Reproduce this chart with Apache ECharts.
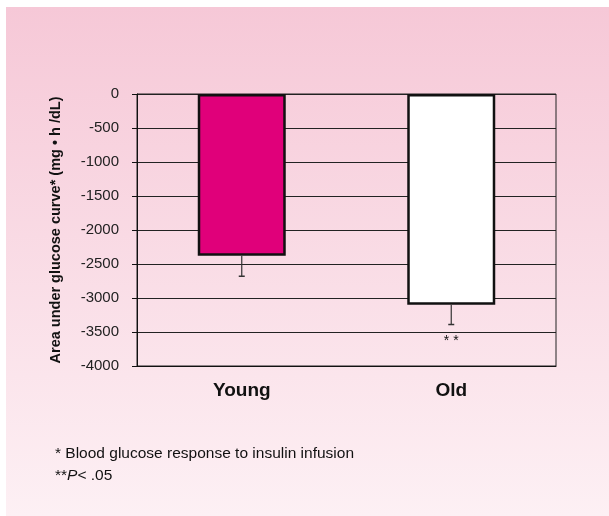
<!DOCTYPE html>
<html>
<head>
<meta charset="utf-8">
<script src="https://cdn.jsdelivr.net/npm/echarts@6/dist/echarts.min.js"></script>
<style>
  html, body { margin: 0; padding: 0; background: #ffffff; }
  #chart { width: 609px; height: 516px; }
</style>
</head>
<body>
<div id="chart"></div>
<script>
// Area under the glucose curve during insulin infusion, by age group
const categories = ['Young', 'Old'];
const areaValues = [-2380, -3100];
const errorValues = [300, 290];
const significance = ['', '* *'];
const yTicks = { min: -4000, max: 0, interval: 500 };

const FONT = '"Liberation Sans", Arial, sans-serif';
const barColors = ['#e0007a', '#ffffff'];

const chart = echarts.init(document.getElementById('chart'), null, { renderer: 'canvas' });

chart.setOption({
  animation: false,
  graphic: [
    {
      type: 'rect',
      z: -10,
      shape: { x: 6, y: 7, width: 603, height: 509 },
      style: {
        fill: new echarts.graphic.LinearGradient(0, 0, 0, 1, [
          { offset: 0, color: '#f6c8d7' },
          { offset: 1, color: '#fdf0f4' }
        ])
      }
    },
    {
      type: 'text',
      left: 55,
      top: 446,
      style: {
        text: '* Blood glucose response to insulin infusion',
        font: '15.5px ' + FONT,
        fill: '#111'
      }
    },
    {
      type: 'text',
      left: 55,
      top: 468,
      style: {
        text: '{s|**}{p|P}{s|< .05}',
        rich: {
          s: { font: '15.5px ' + FONT, fill: '#111' },
          p: { font: 'italic 15.5px ' + FONT, fill: '#111' }
        }
      }
    }
  ],
  grid: {
    left: 137,
    top: 94,
    right: 53,
    bottom: 150,
    show: true,
    borderColor: '#222',
    borderWidth: 1,
    backgroundColor: 'transparent'
  },
  xAxis: {
    type: 'category',
    data: categories,
    position: 'bottom',
    axisLine: { onZero: false, lineStyle: { color: '#111', width: 1 } },
    axisTick: { show: false },
    axisLabel: {
      margin: 15,
      color: '#111',
      fontSize: 19,
      fontWeight: 'bold',
      fontFamily: FONT
    }
  },
  yAxis: {
    type: 'value',
    min: yTicks.min,
    max: yTicks.max,
    interval: yTicks.interval,
    name: 'Area under glucose curve* (mg • h /dL)',
    nameLocation: 'middle',
    nameGap: 74,
    nameTextStyle: {
      color: '#111',
      fontSize: 14.5,
      fontWeight: 'bold',
      fontFamily: FONT
    },
    axisLine: { show: true, lineStyle: { color: '#111', width: 1 } },
    axisTick: { show: true, length: 5, lineStyle: { color: '#111' } },
    axisLabel: {
      margin: 18,
      color: '#222',
      fontSize: 15,
      fontFamily: FONT,
      formatter: function (v) { return String(v); }
    },
    splitLine: { show: true, lineStyle: { color: '#222', width: 1 } }
  },
  series: [
    {
      type: 'bar',
      data: areaValues.map((v, i) => ({
        value: v,
        itemStyle: { color: barColors[i] }
      })),
      barWidth: '42%',
      itemStyle: { borderColor: '#111', borderWidth: 2.5 },
      z: 3
    },
    {
      type: 'custom',
      z: 4,
      data: areaValues.map((v, i) => [i, v, errorValues[i]]),
      renderItem: function (params, api) {
        const idx = api.value(0);
        const top = api.coord([idx, api.value(1)]);
        const bottom = api.coord([idx, api.value(1) - api.value(2)]);
        const capHalf = 3;
        const children = [
          {
            type: 'line',
            shape: { x1: top[0], y1: top[1], x2: bottom[0], y2: bottom[1] },
            style: { stroke: '#333', lineWidth: 1.2 }
          },
          {
            type: 'line',
            shape: { x1: bottom[0] - capHalf, y1: bottom[1], x2: bottom[0] + capHalf, y2: bottom[1] },
            style: { stroke: '#333', lineWidth: 1.5 }
          }
        ];
        if (significance[idx]) {
          children.push({
            type: 'text',
            x: bottom[0],
            y: bottom[1] + 10,
            style: {
              text: significance[idx],
              align: 'center',
              verticalAlign: 'top',
              font: '14px ' + FONT,
              fill: '#111'
            }
          });
        }
        return { type: 'group', children: children };
      }
    }
  ]
});
</script>
</body>
</html>
